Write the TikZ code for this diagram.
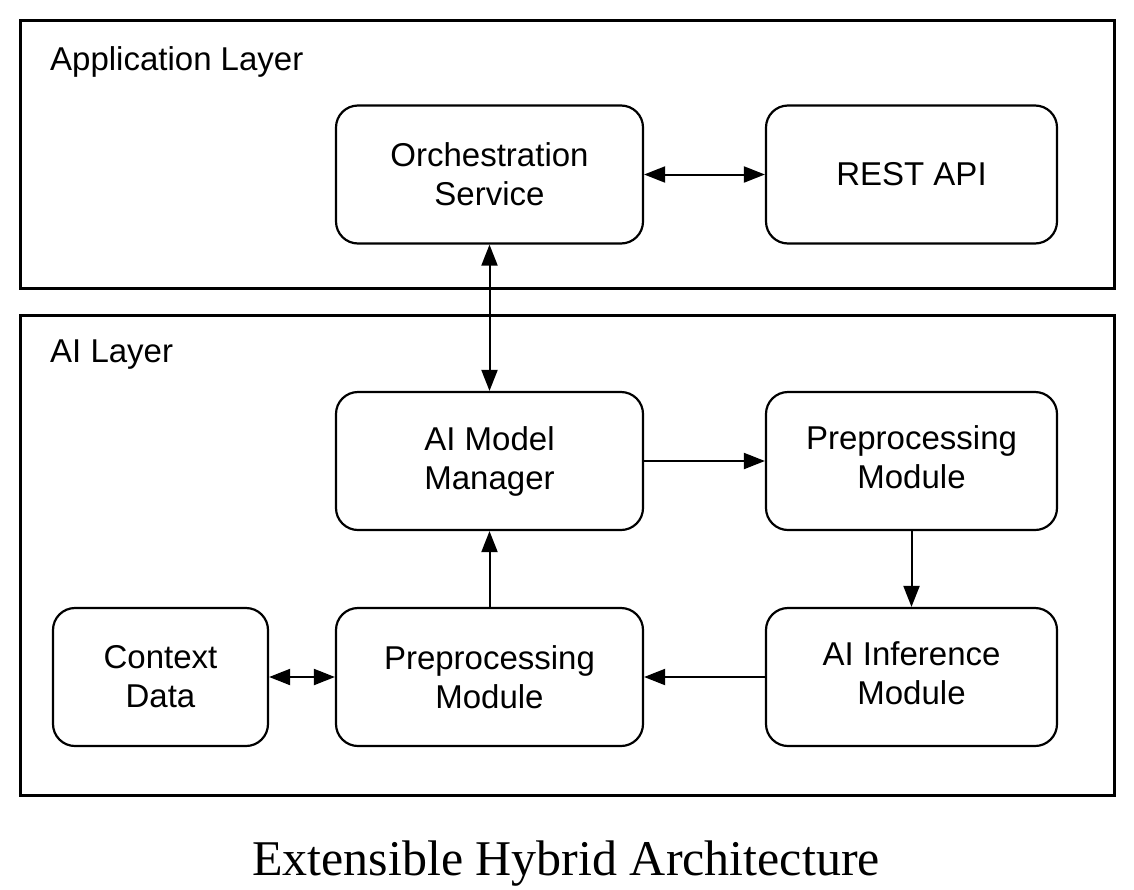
\documentclass[tikz,border=0pt]{standalone}
\usepackage{fontspec}
\setmainfont{Liberation Sans}
\newfontfamily\titlefont{Liberation Serif}
\usetikzlibrary{arrows.meta}

\begin{document}
\begin{tikzpicture}[
    x=1pt, y=-1pt,
    layer/.style={line width=3pt},
    module/.style={draw, rounded corners=22pt, line width=2.2pt, align=center,
        minimum height=138pt, inner sep=0pt,
        font=\fontsize{33}{39}\selectfont},
    layername/.style={anchor=base west, inner sep=0pt, font=\fontsize{33}{39}\selectfont},
    flow/.style={-{Triangle[length=21pt,width=16pt]}, line width=2pt},
    dflow/.style={{Triangle[length=21pt,width=16pt]}-{Triangle[length=21pt,width=16pt]}, line width=2pt}
]
\useasboundingbox (0,0) rectangle (1134,889);

% Layers
\draw[layer] (20,20) rectangle (1114,288);
\draw[layer] (20,315) rectangle (1114,795);
\node[layername] (applabel) at (50,70) {Application Layer};
\node[layername] (ailabel) at (50,362) {AI Layer};

% Application layer modules
\node[module, minimum width=307pt] (orch) at (489.5,174.5) {Orchestration\\Service};
\node[module, minimum width=291pt] (rest) at (911.5,174.5) {REST API};

% AI layer modules
\node[module, minimum width=307pt] (manager) at (489.5,461) {AI Model\\Manager};
\node[module, minimum width=291pt] (preright) at (911.5,461) {\raisebox{6pt}{\begin{tabular}{@{}c@{}}Preprocessing\\Module\end{tabular}}};
\node[module, minimum width=215pt] (context) at (160.5,677) {Context\\Data};
\node[module, minimum width=307pt] (prebottom) at (489.5,677) {Preprocessing\\Module};
\node[module, minimum width=291pt] (inference) at (911.5,677) {\raisebox{6pt}{\begin{tabular}{@{}c@{}}AI Inference\\Module\end{tabular}}};

% Connections
\draw[dflow] (orch) -- (rest);
\draw[dflow] (orch) -- (manager);
\draw[flow] (manager) -- (preright);
\draw[flow] (preright) -- (inference);
\draw[flow] (inference) -- (prebottom);
\draw[flow] (prebottom) -- (manager);
\draw[dflow] (context) -- (prebottom);

% Caption
\node[anchor=base, inner sep=0pt, font=\titlefont\fontsize{50}{56}\selectfont] (caption) at (566,875) {Extensible Hybrid Architecture};

\end{tikzpicture}
\end{document}
